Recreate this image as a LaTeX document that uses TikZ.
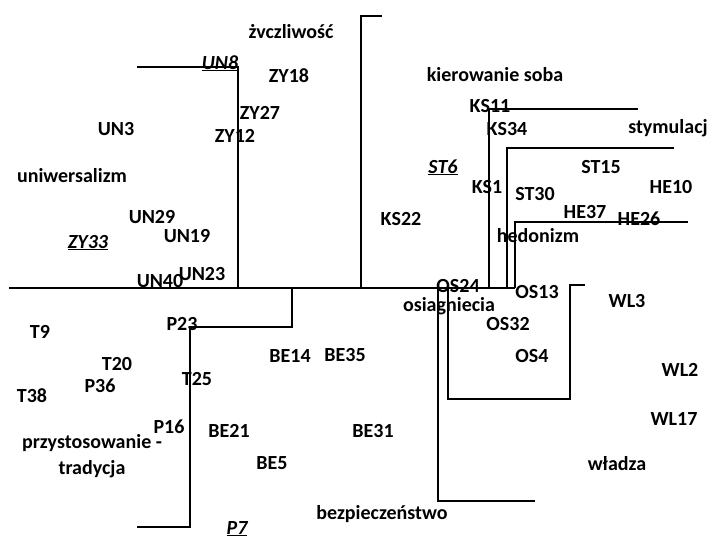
\documentclass[tikz,border=0pt]{standalone}
\usepackage{fontspec}
\setmainfont{Carlito}
\begin{document}
\begin{tikzpicture}[x=1pt,y=-1pt,
  lbl/.style={anchor=base,inner sep=0pt,font=\fontsize{20}{22}\selectfont\bfseries},
  ulbl/.style={lbl,font=\fontsize{20}{22}\selectfont\bfseries\itshape},
  bar/.style={line width=1.2pt,black}]
\useasboundingbox (0,0) rectangle (714,538);
% lines
\draw[bar] (137,67) -- (238,67) -- (238,288);
\draw[bar] (9,288) -- (515,288);
\draw[bar] (382,16) -- (361,16) -- (361,288);
\draw[bar] (638,109) -- (489,109) -- (489,288);
\draw[bar] (674,148) -- (507,148) -- (507,288);
\draw[bar] (688,222) -- (515,222) -- (515,288);
\draw[bar] (292,288) -- (292,327) -- (190,327) -- (190,527) -- (137,527);
\draw[bar] (448,288) -- (448,399) -- (570,399) -- (570,285) -- (585,285);
\draw[bar] (438,288) -- (438,501) -- (535,501);
% labels
\node[lbl] (zycz) at (291,38) {żvczliwość};
\node[ulbl] (un8) at (220,69) {\underline{UN8}};
\node[lbl] (zy18) at (289,82) {ZY18};
\node[lbl] (zy27) at (260,119) {ZY27};
\node[lbl] (zy12) at (235,142) {ZY12};
\node[lbl] (un3) at (116,135) {UN3};
\node[lbl] (uniw) at (72,182) {uniwersalizm};
\node[lbl] (un29) at (152,223) {UN29};
\node[lbl] (un19) at (187,242) {UN19};
\node[ulbl] (zy33) at (88,248) {\underline{ZY33}};
\node[lbl] (un40) at (160,287) {UN40};
\node[lbl] (un23) at (202,280) {UN23};
\node[lbl] (t9) at (40,338) {T9};
\node[lbl] (p23) at (182,330) {P23};
\node[lbl] (t20) at (117,370) {T20};
\node[lbl] (p36) at (100,392) {P36};
\node[lbl] (t38) at (32,402) {T38};
\node[lbl] (t25) at (197,385) {T25};
\node[lbl] (be14) at (290,362) {BE14};
\node[lbl] (be35) at (345,361) {BE35};
\node[lbl] (p16) at (169,433) {P16};
\node[lbl] (be21) at (229,437) {BE21};
\node[lbl] (przy) at (92,448) {przystosowanie -};
\node[lbl] (trad) at (92,474) {tradycja};
\node[lbl] (be5) at (272,469) {BE5};
\node[ulbl] (p7) at (237,534) {\underline{P7}};
\node[lbl] (bezp) at (382,519) {bezpieczeństwo};
\node[lbl] (be31) at (373,437) {BE31};
\node[lbl] (os24) at (458,292) {OS24};
\node[lbl] (os13) at (537,298) {OS13};
\node[lbl] (osia) at (449,311) {osiagniecia};
\node[lbl] (os32) at (508,330) {OS32};
\node[lbl] (os4) at (532,362) {OS4};
\node[lbl] (wl3) at (627,307) {WL3};
\node[lbl] (wl2) at (680,376) {WL2};
\node[lbl] (wl17) at (674,425) {WL17};
\node[lbl] (wladza) at (617,470) {władza};
\node[lbl] (kier) at (495,81) {kierowanie soba};
\node[lbl] (ks11) at (490,112) {KS11};
\node[lbl] (ks34) at (507,135) {KS34};
\node[lbl] (stym) at (668,133) {stymulacj};
\node[ulbl] (st6) at (443,173) {\underline{ST6}};
\node[lbl] (ks1) at (487,193) {KS1};
\node[lbl] (st30) at (535,200) {ST30};
\node[lbl] (st15) at (601,173) {ST15};
\node[lbl] (he10) at (671,193) {HE10};
\node[lbl] (he37) at (585,218) {HE37};
\node[lbl] (he26) at (639,225) {HE26};
\node[lbl] (ks22) at (401,225) {KS22};
\node[lbl] (hedo) at (538,242) {hedonizm};
\end{tikzpicture}
\end{document}
